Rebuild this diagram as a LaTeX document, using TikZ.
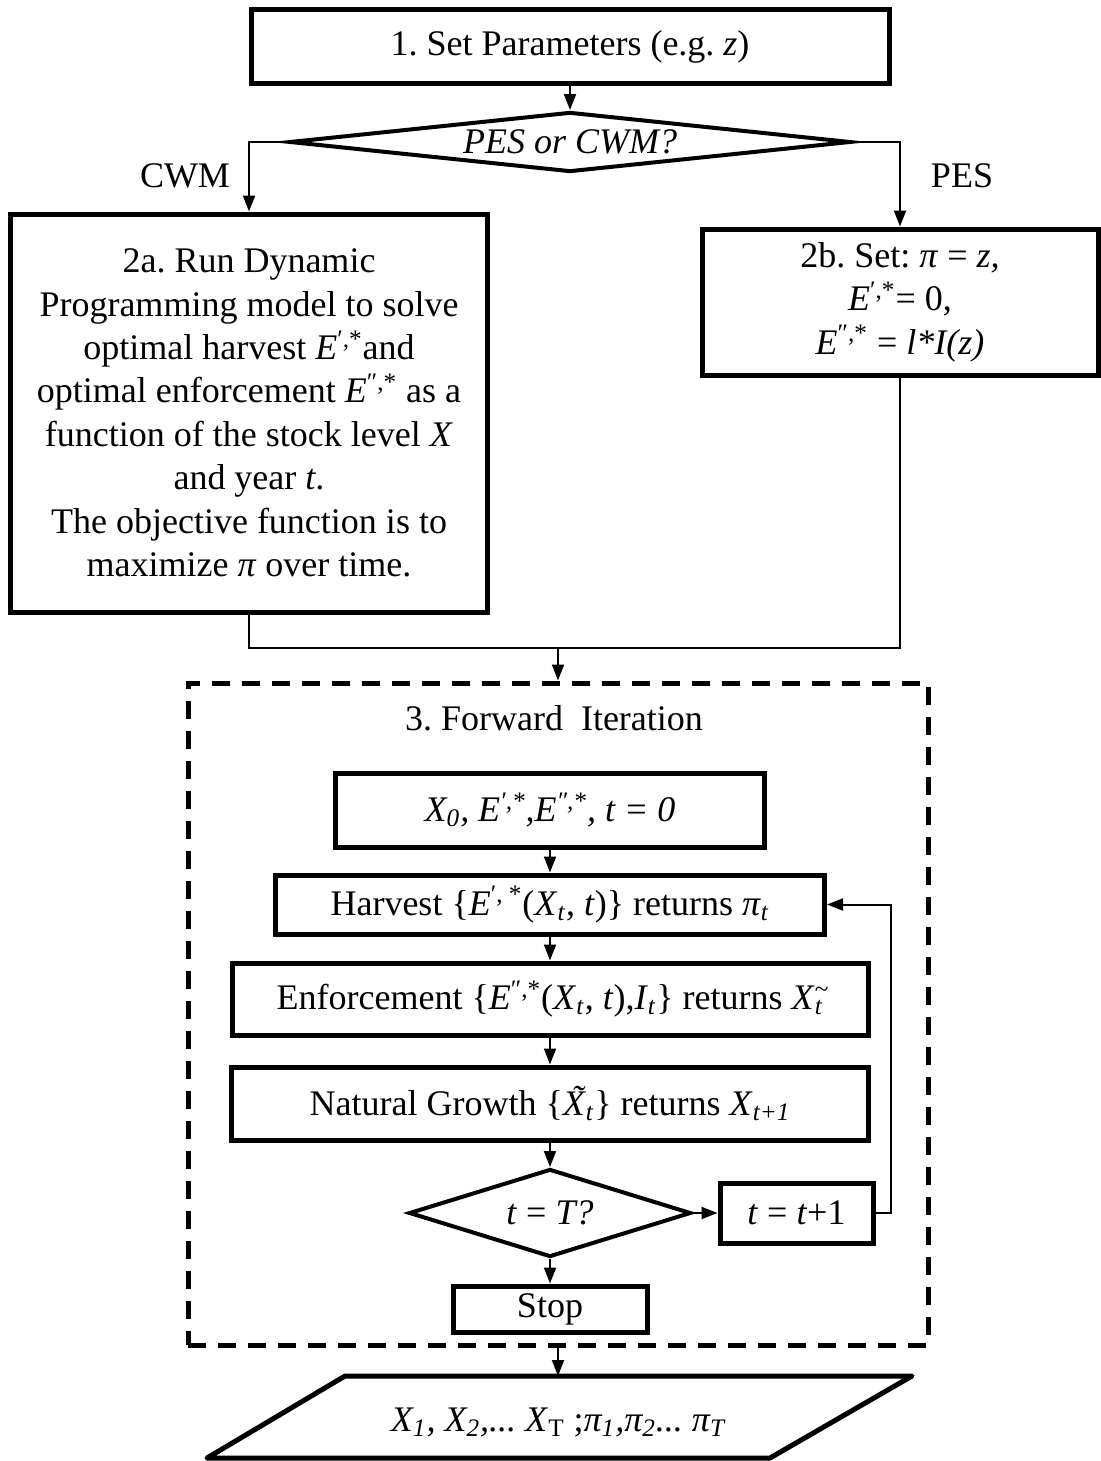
\documentclass[tikz,border=0pt]{standalone}
\usepackage{fontspec}
\setmainfont{Liberation Serif}
\usetikzlibrary{positioning,shapes.geometric,arrows.meta}
\frenchspacing

\newcommand{\supsub}[2]{\rlap{\textsuperscript{#1}}\textsubscript{#2}}
\newcommand{\tildeX}{\rlap{\hspace{0.24em}\raisebox{0.16em}{˜}}X}

\begin{document}
\begin{tikzpicture}[
  x=0.5pt, y=-0.5pt,
  every node/.style={font=\fontsize{18}{21.7}\selectfont},
  proc_box/.style={draw,line width=2.5pt,align=center,inner sep=0pt},
  choice_node/.style={draw,diamond,line width=2pt,inner sep=0pt},
  frame_box/.style={draw,line width=2.5pt,dash pattern=on 9pt off 6pt,inner sep=0pt},
  link/.style={line width=1pt},
  >={Triangle[width=6pt,length=8pt]}
  ]
  \useasboundingbox (0,0) rectangle (1101,1461);

  % parameters and choice
  \node[proc_box,minimum width=319pt,minimum height=37pt] (set) at (570,47)
    {1. Set Parameters (e.g. \textit{z})};
  \node[choice_node,aspect=9.35,minimum width=280.5pt,minimum height=30pt] (choice) at (570,142)
    {\textit{PES or CWM?}};
  \node (cwm) at (185,176) {CWM};
  \node (pes_lbl) at (962,176) {PES};

  \node[proc_box,minimum width=238.5pt,minimum height=199pt] (dp) at (249,413)
    {2a. Run Dynamic\\
     Programming model to solve\\
     optimal harvest \textit{E}\textsuperscript{′,*}and\\
     optimal enforcement \textit{E}\textsuperscript{″,*} as a\\
     function of the stock level \textit{X}\\
     and year \textit{t}.\\
     The objective function is to\\
     maximize \textit{π} over time.};
  \node[proc_box,minimum width=198pt,minimum height=73pt] (pes) at (900,302)
    {2b. Set: \textit{π} = \textit{z,}\\
     \textit{E}\textsuperscript{′,*}= 0,\\
     \textit{E}\textsuperscript{″,*} = \textit{l*I(z)}};

  \coordinate (join) at (558,648);

  % forward iteration
  \node[frame_box,minimum width=370pt,minimum height=331pt] (fwd) at (558,1014) {};
  \node (fwd_title) at (554,718) {3. Forward~~Iteration};

  \node[proc_box,minimum width=214.5pt,minimum height=37pt] (init) at (550,810)
    {\textit{X\textsubscript{0}, E\textsuperscript{′,*},E\textsuperscript{″,*}, t = 0}};
  \node[proc_box,minimum width=274.5pt,minimum height=29.5pt] (harv) at (550,904.5)
    {Harvest \{\textit{E}\textsuperscript{′, *}(\textit{X}\textsubscript{\textit{t}}, \textit{t})\} returns \textit{π}\textsubscript{\textit{t}}};
  \node[proc_box,minimum width=318pt,minimum height=36pt] (enf) at (550,999)
    {Enforcement \{\textit{E}\textsuperscript{″,*}(\textit{X}\textsubscript{\textit{t}}, \textit{t}),\textit{I}\textsubscript{\textit{t}}\} returns \textit{X}\supsub{\textasciitilde}{\textit{t}}};
  \node[proc_box,minimum width=318.5pt,minimum height=36.5pt] (grow) at (550,1103.5)
    {Natural Growth \{\textit{\tildeX}\textsubscript{\textit{t}}\} returns \textit{X}\textsubscript{\textit{t+1}}};
  \node[choice_node,aspect=3.2,minimum width=141pt,minimum height=44pt] (check) at (550,1213)
    {\textit{t} = \textit{T?}};
  \node[proc_box,minimum width=76.5pt,minimum height=30pt] (incr) at (796.5,1213)
    {\textit{t} = \textit{t}+1};
  \node[proc_box,minimum width=97pt,minimum height=23pt] (stop) at (550,1309) {Stop};

  % results
  \coordinate (out_top) at (558,1376);
  \draw[line width=2.5pt,line join=round] (345,1376) -- (912,1376) -- (770,1458) -- (207,1458) -- cycle;
  \node (out) at (558,1422)
    {\textit{X\textsubscript{1}, X\textsubscript{2},... X}\textsubscript{T} ;\textit{π\textsubscript{1},π\textsubscript{2}... π\textsubscript{T}}};

  \draw[link,->] (set) -- (choice);
  \draw[link,->] (choice.west) -| (dp.north);
  \draw[link,->] (choice.east) -| (pes.north);
  \draw[link] (dp.south) |- (join) -| (pes.south);
  \draw[link,->] (join) -- (join|-fwd.north);

  \draw[link,->] (init) -- (harv);
  \draw[link,->] (harv) -- (enf);
  \draw[link,->] (enf) -- (grow);
  \draw[link,->] (grow) -- (check);
  \draw[link,->] (check) -- (stop);
  \draw[link,->] (check) -- (incr);
  \draw[link,->] (incr.east) -- ++(15,0) |- (harv.east);

  \draw[link,->] (fwd.south) -- (out_top);
\end{tikzpicture}
\end{document}
